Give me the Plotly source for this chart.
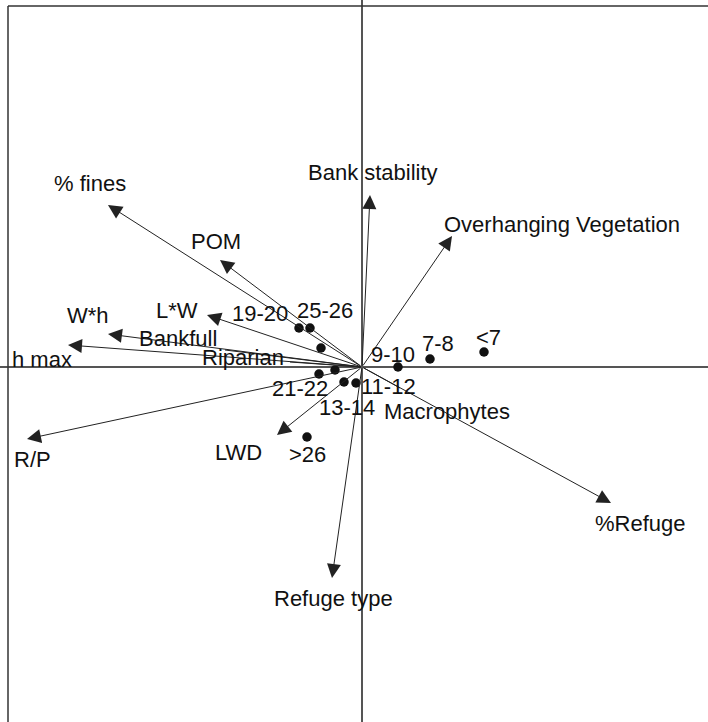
import plotly.graph_objects as go

# Environmental variables (biplot arrows), axis-1 / axis-2 scores
env_names = ["% fines", "POM", "Bank stability", "Overhanging Vegetation", "W*h", "L*W",
             "Bankfull", "h max", "Riparian", "R/P", "LWD", "Refuge type", "%Refuge", "Macrophytes"]
env_x = [-1.27, -0.71, 0.04, 0.45, -1.27, -0.775, -0.685, -1.47, -0.36, -1.675, -0.425, -0.15, 1.245, 0.19]
env_y = [0.81, 0.535, 0.86, 0.655, 0.165, 0.26, 0.085, 0.11, 0.025, -0.36, -0.34, -1.055, -0.68, -0.105]
env_head = [True, True, True, True, True, True, False, True, False, True, True, True, True, False]

# Site (size-class) scores
site_names = ["19-20", "25-26", "", "21-22", "", "13-14", "11-12", "9-10", "7-8", "<7", ">26"]
site_x = [-0.315, -0.26, -0.205, -0.215, -0.135, -0.09, -0.03, 0.18, 0.34, 0.61, -0.275]
site_y = [0.195, 0.195, 0.095, -0.035, -0.015, -0.075, -0.08, 0.0, 0.04, 0.075, -0.35]

# label placement offsets in pixels (dx right, dy down)
env_off = [(-18, -22), (-4, -19), (3, -23), (110, -12), (-20, -19), (-30, -5), (-47, -12),
           (-26, 14), (-47, -5), (5, 20), (-39, 17), (1, 20), (29, 20), (47, 23)]
site_off = [(-39, -15), (15, -18), (0, 0), (-19, 14), (0, 0), (3, 25), (32, 3), (-5, -13),
            (8, -16), (4, -15), (0, 17)]

FONT = dict(family="Liberation Sans, Arial, sans-serif", size=22, color="#111")

fig = go.Figure()
fig.add_trace(go.Scatter(x=site_x, y=site_y, mode="markers",
                         marker=dict(size=9.5, color="#111"), hoverinfo="skip", showlegend=False))

ann = []
for n, x, y, h, (dx, dy) in zip(env_names, env_x, env_y, env_head, env_off):
    ann.append(dict(x=x, y=y, ax=0, ay=0, xref="x", yref="y", axref="x", ayref="y",
                    text="", showarrow=True, arrowhead=2 if h else 0, arrowsize=2.8 if h else 1,
                    arrowwidth=1, arrowcolor="#222", standoff=0, startstandoff=0))
    ann.append(dict(x=x, y=y, xref="x", yref="y", text=n, showarrow=False,
                    xshift=dx, yshift=-dy, font=FONT, borderpad=0))
for n, x, y, (dx, dy) in zip(site_names, site_x, site_y, site_off):
    if n:
        ann.append(dict(x=x, y=y, xref="x", yref="y", text=n, showarrow=False,
                        xshift=dx, yshift=-dy, font=FONT, borderpad=0))

fig.update_layout(
    width=708, height=722, margin=dict(l=0, r=0, t=0, b=0),
    paper_bgcolor="white", plot_bgcolor="white",
    xaxis=dict(range=[-1.81, 1.73], showgrid=False, showticklabels=False, ticks="",
               zeroline=True, zerolinecolor="#555", zerolinewidth=1.5, showline=False),
    yaxis=dict(range=[-1.775, 1.835], showgrid=False, showticklabels=False, ticks="",
               zeroline=True, zerolinecolor="#555", zerolinewidth=1.5, showline=False),
    annotations=ann,
    shapes=[
        dict(type="line", xref="paper", yref="paper", x0=8/708, x1=8/708, y0=0, y1=716/722,
             line=dict(color="#333", width=1.5)),
        dict(type="line", xref="paper", yref="paper", x0=8/708, x1=1, y0=716/722, y1=716/722,
             line=dict(color="#333", width=1.5)),
    ],
)

fig.write_html("out.html", config={"displayModeBar": False},
               post_script="document.body.style.margin='0';document.body.style.overflow='hidden';")
